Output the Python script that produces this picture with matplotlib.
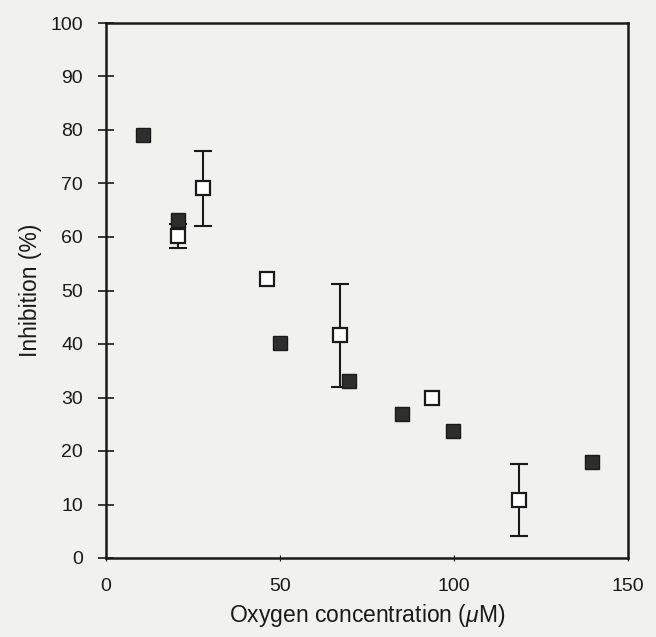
import matplotlib
matplotlib.use("Agg")
import matplotlib.pyplot as plt

# Filled squares (no error bars)
filled_x = [10.7, 20.8, 50.0, 69.9, 85.0, 99.8, 139.7]
filled_y = [79.1, 63.2, 40.1, 33.1, 26.9, 23.7, 17.9]

# Open squares with error bars (0 = no visible bar)
open_x = [20.6, 27.8, 46.4, 67.2, 93.8, 118.7]
open_y = [60.2, 69.1, 52.1, 41.6, 30.0, 10.8]
open_err = [2.2, 7.0, 0.0, 9.6, 0.0, 6.7]

x_ticks = [0, 50, 100, 150]
y_ticks = [0, 10, 20, 30, 40, 50, 60, 70, 80, 90, 100]

plt.rcParams['font.family'] = ['Liberation Sans', 'DejaVu Sans']
plt.rcParams['mathtext.fontset'] = 'custom'
plt.rcParams['mathtext.it'] = 'Liberation Sans:italic'
plt.rcParams['mathtext.rm'] = 'Liberation Sans'

bg = '#f1f1f0'
ink = '#1a1a1a'
fig = plt.figure(figsize=(6.56, 6.37), dpi=100, facecolor=bg)
ax = fig.add_axes([106 / 656, 1 - 558 / 637, 522 / 656, 535 / 637])
ax.set_facecolor(bg)

# only draw bars where there is an error value
eb = [(x, y, e) for x, y, e in zip(open_x, open_y, open_err) if e > 0]
ax.errorbar([p[0] for p in eb], [p[1] for p in eb], yerr=[p[2] for p in eb],
            fmt='none', ecolor=ink, elinewidth=1.5, capsize=6.5, capthick=1.5,
            zorder=2)
ax.plot(open_x, open_y, 's', markersize=10, markerfacecolor='white',
        markeredgecolor=ink, markeredgewidth=1.6, zorder=3)
ax.plot(filled_x, filled_y, 's', markersize=9.5, markerfacecolor='#2e2e2e',
        markeredgecolor=ink, markeredgewidth=1.0, zorder=4)

ax.set_xlim(0, 150)
ax.set_ylim(0, 100)
ax.set_xticks(x_ticks)
ax.set_yticks(y_ticks)
ax.tick_params(axis='y', direction='inout', length=11, width=1.2, pad=11,
               labelsize=14, colors=ink)
ax.tick_params(axis='x', direction='inout', length=5, width=0.8, pad=12,
               labelsize=14, colors=ink)
for s in ax.spines.values():
    s.set_linewidth(1.8)
    s.set_color(ink)

ax.set_xlabel(r'Oxygen concentration ($\mu$M)', fontsize=16.5, color=ink, labelpad=5)
ax.set_ylabel('Inhibition (%)', fontsize=16.5, color=ink, labelpad=6)

fig.savefig('out.png', dpi=100, facecolor=bg)
